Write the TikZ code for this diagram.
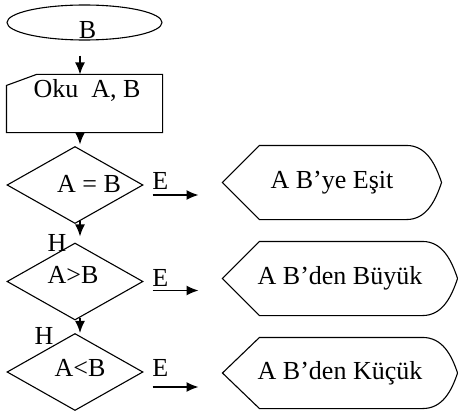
\documentclass[tikz,border=0pt]{standalone}
\usepackage{fontspec}
\setmainfont{Liberation Serif}
\usetikzlibrary{shapes.geometric,arrows.meta,positioning}

\tikzstyle{terminal}=[draw,ellipse,minimum width=155pt,minimum height=35pt,inner sep=0pt]
\tikzstyle{decision}=[draw,diamond,minimum width=136pt,minimum height=77pt,inner sep=0pt]
\tikzstyle{readbox}=[rectangle,minimum width=155pt,minimum height=57pt,inner sep=0pt]
\tikzstyle{display}=[rectangle,inner sep=0pt]
\tikzstyle{flow}=[->,line width=1.5pt]

\begin{document}
\begin{tikzpicture}[x=1pt,y=-1pt,line width=1.1pt,font=\fontsize{26}{30}\selectfont]
			\useasboundingbox (0,0) rectangle (458,412);
			\begin{scope}[>={Latex[length=12pt,width=10pt]}]
				\node (start)[terminal] at (84.5,22.5) {};
				\node (startlbl) at (87.5,30.5) {B};
				\node (read)[readbox] at (84.5,103.5) {};
				\draw (read.south west) -- ([yshift=-11pt]read.north west) -- ([xshift=30pt]read.north west) -- (read.north east) -- (read.south east) -- cycle;
				\node (readlbl) at (87,90.5) {Oku~~A, B};
				
				\foreach \nr/\y/\tx/\ty/\cond/\dy in {1/185/89/183.5/{A = B}/10pt, 2/281.5/73/275/{A>B}/9pt, 3/372/80/367.5/{A<B}/15pt}{
					\node (D\nr)[decision] at (75,\y) {};
					\node (T\nr) at (\tx,\ty) {\cond};
					\node (E\nr)[right=5pt of D\nr.east,yshift=4pt] {E};
					\draw[flow] ([shift={(9pt,-\dy)}]D\nr.east) -- +(46pt,0);
				}
				\foreach \nr/\x/\y/\w/\h/\res in {1/332/182.5/218pt/73pt/{A B’ye Eşit}, 2/340/278.5/234pt/73pt/{A B’den Büyük}, 3/340/373/234pt/70pt/{A B’den Küçük}}{
					\node (R\nr)[display,minimum width=\w,minimum height=\h] at (\x,\y) {\res};
					\draw (R\nr.west) -- ([xshift=37pt]R\nr.north west) -- ([xshift=-35pt]R\nr.north east)
						.. controls +(20pt,0pt) and +(-6pt,18pt) .. (R\nr.east)
						.. controls +(-6pt,-18pt) and +(20pt,0pt) .. ([xshift=-35pt]R\nr.south east)
						-- ([xshift=37pt]R\nr.south west) -- cycle;
				}
				\node (H2) at (57,243) {H};
				\node (H3) at (44,336) {H};
				
				\draw[flow] ([xshift=-4.5pt,yshift=-15pt]start.south) -- ([xshift=-4.5pt]read.north);
				\draw[flow] ([xshift=-4.5pt]read.south) -- ([xshift=5pt,yshift=1.5pt]D1.north);
				\draw[flow] ([xshift=5pt,yshift=3pt]D1.south) -- ([xshift=5pt,yshift=6pt]D2.north);
				\draw[flow] ([xshift=5pt,yshift=3pt]D2.south) -- ([xshift=5pt]D3.north);
			\end{scope}
		\end{tikzpicture}
\end{document}
